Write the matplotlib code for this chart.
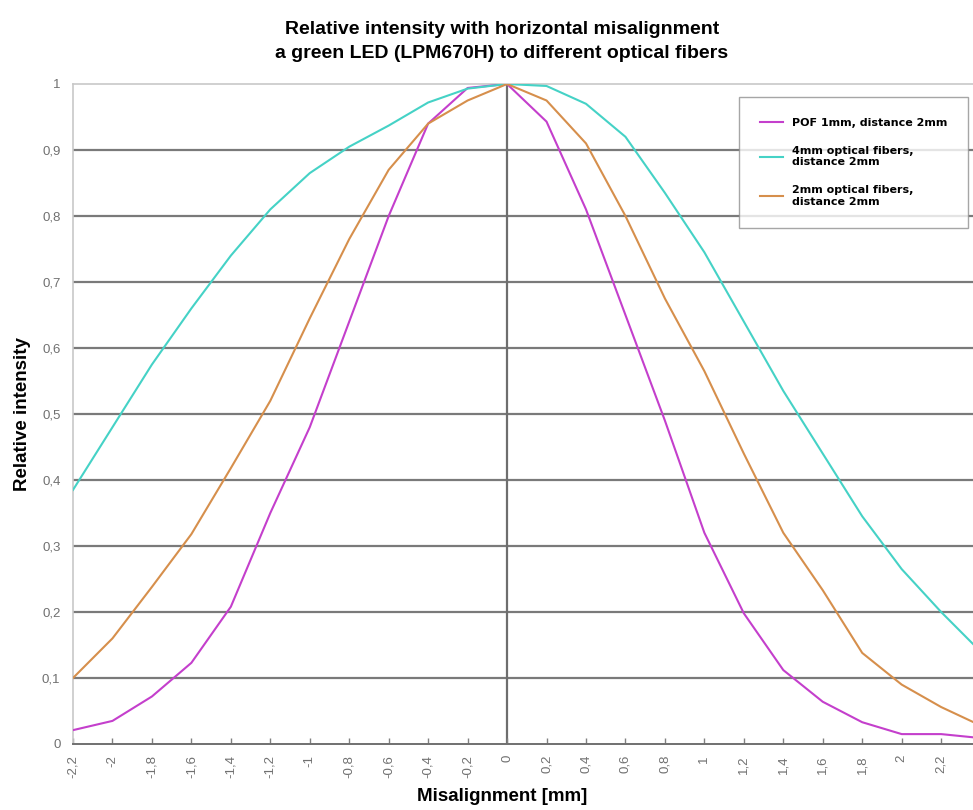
import matplotlib.pyplot as plt

# misalignment positions [mm]
x_mm = [-2.2, -2.0, -1.8, -1.6, -1.4, -1.2, -1.0, -0.8, -0.6, -0.4, -0.2, 0.0,
        0.2, 0.4, 0.6, 0.8, 1.0, 1.2, 1.4, 1.6, 1.8, 2.0, 2.2, 2.4]

pof_1mm = [0.021, 0.035, 0.072, 0.123, 0.208, 0.35, 0.48, 0.64, 0.80, 0.94, 0.994, 1.0,
           0.943, 0.81, 0.65, 0.49, 0.32, 0.198, 0.112, 0.064, 0.033, 0.015, 0.015, 0.009]
fiber_4mm = [0.385, 0.48, 0.575, 0.66, 0.74, 0.81, 0.865, 0.905, 0.937, 0.972, 0.993, 1.0,
             0.997, 0.97, 0.92, 0.835, 0.745, 0.64, 0.535, 0.44, 0.345, 0.265, 0.2, 0.14]
fiber_2mm = [0.1, 0.16, 0.238, 0.318, 0.418, 0.52, 0.645, 0.765, 0.87, 0.94, 0.975, 1.0,
             0.975, 0.91, 0.80, 0.675, 0.565, 0.44, 0.32, 0.233, 0.138, 0.09, 0.056, 0.028]

series_labels = ["POF 1mm, distance 2mm",
                 "4mm optical fibers,\ndistance 2mm",
                 "2mm optical fibers,\ndistance 2mm"]

x_ticks = x_mm
x_tick_labels = ["-2,2", "-2", "-1,8", "-1,6", "-1,4", "-1,2", "-1", "-0,8", "-0,6", "-0,4",
                 "-0,2", "0", "0,2", "0,4", "0,6", "0,8", "1", "1,2", "1,4", "1,6", "1,8",
                 "2", "2,2", "2,4"]
y_ticks = [0, 0.1, 0.2, 0.3, 0.4, 0.5, 0.6, 0.7, 0.8, 0.9, 1.0]
y_tick_labels = ["0", "0,1", "0,2", "0,3", "0,4", "0,5", "0,6", "0,7", "0,8", "0,9", "1"]

plt.rcParams['font.family'] = ['Liberation Sans', 'DejaVu Sans']

fig = plt.figure(figsize=(9.73, 8.1), dpi=100)
# axes runs a little past the right edge, as in the cropped original
ax = fig.add_axes([73 / 973, 66 / 810, 907.6 / 973, 660 / 810])

# grid lines and the vertical axis at x = 0
for y in y_ticks[1:-1]:
    ax.axhline(y, color="#7a7a7a", lw=1.6, zorder=1)
ax.axvline(0, color="#6e6e6e", lw=1.6, zorder=1)

ax.plot(x_mm, pof_1mm, color="#c43fcc", lw=1.5, label=series_labels[0], zorder=3)
ax.plot(x_mm, fiber_4mm, color="#45d2c6", lw=1.5, label=series_labels[1], zorder=3)
ax.plot(x_mm, fiber_2mm, color="#d68f4c", lw=1.5, label=series_labels[2], zorder=3)

ax.set_xlim(-2.2, 2.4)
ax.set_ylim(0, 1)

ax.set_xticks(x_ticks, labels=x_tick_labels, rotation=90)
ax.set_yticks(y_ticks, labels=y_tick_labels)
ax.tick_params(axis="x", direction="in", length=4, width=1, color="#808080",
               pad=8, labelsize=9.5, labelcolor="#707070")
ax.tick_params(axis="y", length=0, pad=9, labelsize=9.5, labelcolor="#707070")

for side in ["top", "left"]:
    ax.spines[side].set_color("#c8c8c8")
    ax.spines[side].set_linewidth(1.2)
ax.spines["bottom"].set_color("#707070")
ax.spines["bottom"].set_linewidth(1.4)
ax.spines["right"].set_visible(False)

ax.set_xlabel("Misalignment [mm]", fontsize=13.5, fontweight="bold")
ax.xaxis.set_label_coords((502 - 73) / 907.6, -44 / 660)
ax.set_ylabel("Relative intensity", fontsize=13.5, fontweight="bold")
ax.yaxis.set_label_coords(-42 / 907.6, 0.5)

fig.text(502 / 973, 1 - 29 / 810, "Relative intensity with horizontal misalignment",
         ha="center", va="center", fontsize=14, fontweight="bold")
fig.text(502 / 973, 1 - 53 / 810, "a green LED (LPM670H) to different optical fibers",
         ha="center", va="center", fontsize=14, fontweight="bold")

leg = ax.legend(loc="upper right", bbox_to_anchor=(968 / 973, 1 - 97 / 810),
                bbox_transform=fig.transFigure, frameon=True, fancybox=False,
                borderaxespad=0,
                prop={"family": "DejaVu Sans", "weight": "bold", "size": 8},
                handlelength=2.0, handletextpad=0.8, labelspacing=1.6, borderpad=1.9)
leg.get_frame().set_edgecolor("#909090")
leg.get_frame().set_linewidth(1.0)

fig.savefig("out.png", dpi=100)
